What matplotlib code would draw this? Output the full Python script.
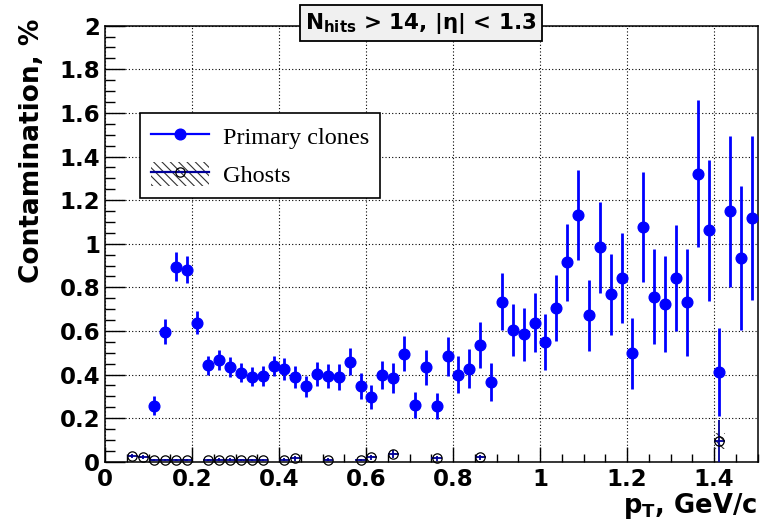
import matplotlib
matplotlib.use('Agg')
import matplotlib.pyplot as plt
from matplotlib.lines import Line2D
from matplotlib.patches import Patch
from matplotlib.ticker import FixedLocator, MultipleLocator

# ---------------- data ----------------
pt_primary = [0.1125, 0.1375, 0.1625, 0.1875, 0.2125, 0.2375, 0.2625, 0.2875, 0.3125, 0.3375,
              0.3625, 0.3875, 0.4125, 0.4375, 0.4625, 0.4875, 0.5125, 0.5375, 0.5625, 0.5875,
              0.6125, 0.6375, 0.6625, 0.6875, 0.7125, 0.7375, 0.7625, 0.7875, 0.8125, 0.8375,
              0.8625, 0.8875, 0.9125, 0.9375, 0.9625, 0.9875, 1.0125, 1.0375, 1.0625, 1.0875,
              1.1125, 1.1375, 1.1625, 1.1875, 1.2125, 1.2375, 1.2625, 1.2875, 1.3125, 1.3375,
              1.3625, 1.3875, 1.4125, 1.4375, 1.4625, 1.4875]
primary = [0.257, 0.597, 0.895, 0.880, 0.638, 0.442, 0.467, 0.433, 0.408, 0.390,
           0.394, 0.440, 0.425, 0.389, 0.346, 0.403, 0.394, 0.390, 0.458, 0.348,
           0.297, 0.398, 0.386, 0.495, 0.259, 0.433, 0.255, 0.483, 0.400, 0.427,
           0.536, 0.365, 0.734, 0.603, 0.585, 0.638, 0.550, 0.705, 0.915, 1.130,
           0.672, 0.984, 0.768, 0.843, 0.497, 1.076, 0.756, 0.725, 0.843, 0.731,
           1.320, 1.061, 0.410, 1.148, 0.934, 1.116]
primary_err = [0.043, 0.057, 0.065, 0.062, 0.054, 0.044, 0.046, 0.045, 0.043, 0.045,
               0.047, 0.046, 0.049, 0.052, 0.049, 0.054, 0.056, 0.059, 0.062, 0.060,
               0.054, 0.066, 0.069, 0.081, 0.059, 0.079, 0.061, 0.089, 0.084, 0.089,
               0.104, 0.088, 0.132, 0.120, 0.122, 0.135, 0.129, 0.152, 0.177, 0.206,
               0.162, 0.208, 0.187, 0.206, 0.162, 0.253, 0.218, 0.220, 0.245, 0.246,
               0.337, 0.325, 0.202, 0.347, 0.332, 0.376]

pt_ghost = [0.0625, 0.0875, 0.1125, 0.1375, 0.1625, 0.1875, 0.2375, 0.2625, 0.2875, 0.3125,
            0.3375, 0.3625, 0.4125, 0.4375, 0.5125, 0.5875, 0.6125, 0.6625, 0.7625, 0.8625,
            1.4125]
ghost = [0.026, 0.022, 0.008, 0.008, 0.008, 0.008, 0.008, 0.010, 0.010, 0.008,
         0.008, 0.008, 0.010, 0.015, 0.010, 0.008, 0.020, 0.035, 0.015, 0.020,
         0.095]
ghost_err = [0.010, 0.010, 0.006, 0.006, 0.006, 0.006, 0.006, 0.007, 0.007, 0.006,
             0.006, 0.006, 0.007, 0.010, 0.007, 0.006, 0.012, 0.018, 0.010, 0.012,
             0.095]
ghost_band = [0.004, 0.004, 0.003, 0.003, 0.003, 0.003, 0.003, 0.003, 0.003, 0.003,
              0.003, 0.003, 0.003, 0.004, 0.003, 0.003, 0.004, 0.006, 0.004, 0.004,
              0.035]
bin_width = 0.025

x_ticks = [0, 0.2, 0.4, 0.6, 0.8, 1.0, 1.2, 1.4]
x_ticklabels = ['0', '0.2', '0.4', '0.6', '0.8', '1', '1.2', '1.4']
y_ticks = [0, 0.2, 0.4, 0.6, 0.8, 1.0, 1.2, 1.4, 1.6, 1.8, 2.0]
y_ticklabels = ['0', '0.2', '0.4', '0.6', '0.8', '1', '1.2', '1.4', '1.6', '1.8', '2']

title_text = r'$\mathbf{N_{hits}}$ > 14, |η| < 1.3'
x_title = r'$\mathbf{p_{T}}$, GeV/c'
y_title = 'Contamination, %'
legend_labels = ['Primary clones', 'Ghosts']

# ---------------- style ----------------
plt.rcParams['font.family'] = ['DejaVu Sans']
plt.rcParams['mathtext.fontset'] = 'dejavusans'
plt.rcParams['hatch.linewidth'] = 0.8

W, H = 765, 525
fig = plt.figure(figsize=(W / 100, H / 100), dpi=100)
ax_left, ax_right, ax_top, ax_bottom = 105, 757.5, 25.7, 461.7
ax = fig.add_axes([ax_left / W, 1 - ax_bottom / H, (ax_right - ax_left) / W, (ax_bottom - ax_top) / H])

blue = '#0000ff'
navy = '#000099'

# ghosts: hatched band, error bars, open circles
ax.bar(pt_ghost, [2 * b for b in ghost_band], bottom=[g - b for g, b in zip(ghost, ghost_band)],
       width=bin_width, fill=False, hatch='\\\\\\\\', edgecolor='#333333', linewidth=0, zorder=2)
ax.errorbar(pt_ghost, ghost, yerr=ghost_err, xerr=bin_width / 2, fmt='none', ecolor=navy,
            elinewidth=1.3, capsize=0, zorder=3)
ax.plot(pt_ghost, ghost, linestyle='none', marker='o', markersize=6.7, markerfacecolor='none',
        markeredgecolor='black', markeredgewidth=0.9, zorder=4, clip_on=False)

# primary clones
ax.errorbar(pt_primary, primary, yerr=primary_err, fmt='o', color=blue, ecolor=blue,
            elinewidth=2.0, markersize=7.7, capsize=0, zorder=5)

ax.set_xlim(0, 1.5)
ax.set_ylim(0, 2)

ax.xaxis.set_major_locator(FixedLocator(x_ticks))
ax.set_xticklabels(x_ticklabels)
ax.yaxis.set_major_locator(FixedLocator(y_ticks))
ax.set_yticklabels(y_ticklabels)
ax.xaxis.set_minor_locator(MultipleLocator(0.05))
ax.yaxis.set_minor_locator(MultipleLocator(0.05))

for lab in ax.get_xticklabels() + ax.get_yticklabels():
    lab.set_fontweight('bold')
    lab.set_fontsize(16.5)

ax.tick_params(axis='x', which='major', direction='in', length=10.8, width=1, top=False, pad=4.5)
ax.tick_params(axis='x', which='minor', direction='in', length=5.5, width=1, top=False)
ax.tick_params(axis='y', which='major', direction='in', length=14.5, width=1, right=False, pad=3.5)
ax.tick_params(axis='y', which='minor', direction='in', length=7.2, width=1, right=False)

ax.grid(True, which='major', linestyle=(0, (1, 2)), color='black', linewidth=0.8)
ax.set_axisbelow(True)
for s in ax.spines.values():
    s.set_linewidth(1.1)

# axis titles
fig.text(32 / W, 1 - 19 / H, y_title, rotation=90, ha='center', va='top',
         fontsize=19, fontweight='bold')
fig.text(757 / W, 1 - 521 / H, x_title, ha='right', va='bottom', fontsize=18.5, fontweight='bold')

# title box
fig.text(421 / W, 1 - 23 / H, title_text, ha='center', va='center', fontsize=15.5,
         fontweight='bold',
         bbox=dict(boxstyle='square,pad=0.25', facecolor='#f0f0f0', edgecolor='black', linewidth=1.3),
         zorder=10)

# legend
h_primary = Line2D([], [], color=blue, linewidth=1.6, marker='o', markersize=7.7)
h_ghost_line = Line2D([], [], color=navy, linewidth=1.6, marker='o', markersize=6.7,
                      markerfacecolor='none', markeredgecolor='black', markeredgewidth=0.9)
h_ghost_patch = Patch(facecolor='white', edgecolor='#333333', hatch='\\\\\\\\', linewidth=0)
leg = ax.legend([h_primary, (h_ghost_patch, h_ghost_line)], legend_labels,
                loc='upper left', bbox_to_anchor=((140 - ax_left) / (ax_right - ax_left),
                                                  (ax_bottom - 113) / (ax_bottom - ax_top)),
                borderaxespad=0, prop={'family': 'Liberation Serif', 'size': 17.5},
                frameon=True, fancybox=False, shadow=False, framealpha=1,
                edgecolor='black', handlelength=2.4, handleheight=1.1, handletextpad=0.55,
                labelspacing=0.55, borderpad=0.45)
leg.get_frame().set_linewidth(1.2)
leg.set_zorder(8)

fig.savefig('out.png', dpi=100)
